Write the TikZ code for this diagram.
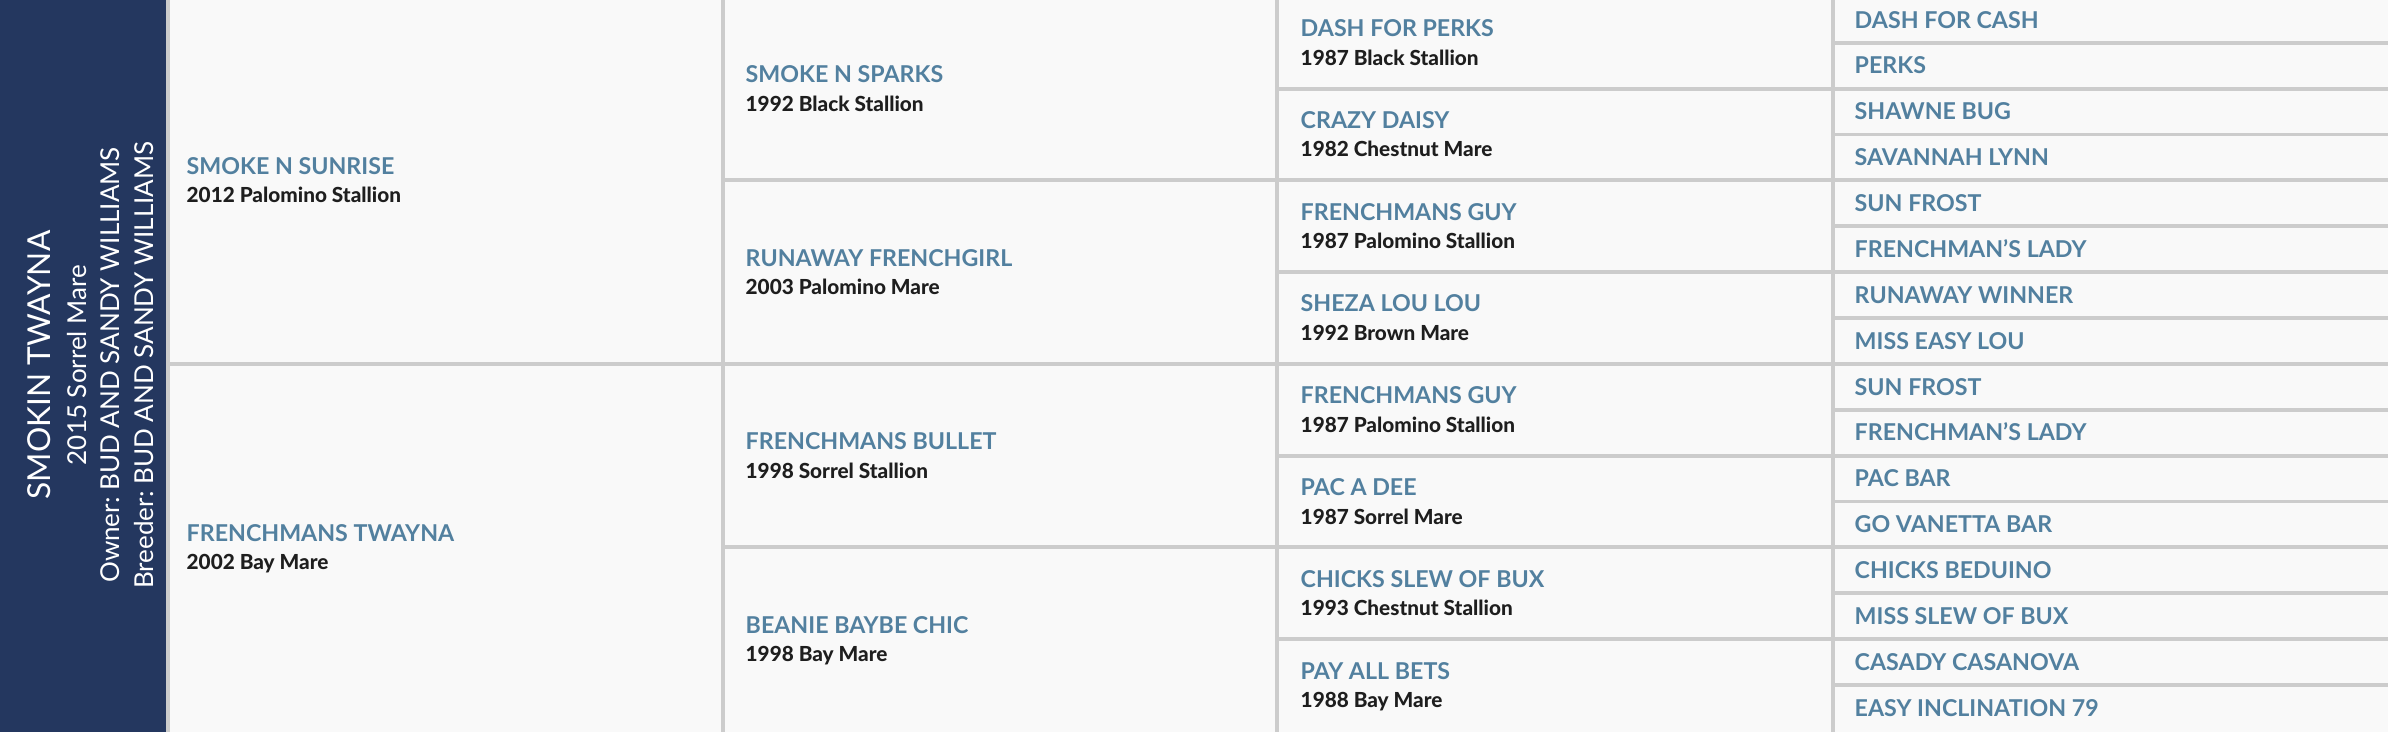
\documentclass[tikz,border=0pt]{standalone}
\usepackage{fontspec}
\setmainfont{Lato}
\newfontfamily\heavyfont{Lato Heavy}
\frenchspacing
\definecolor{navy}{HTML}{24375F}
\definecolor{nameblue}{HTML}{52809F}
\definecolor{subblack}{HTML}{1E1E1E}
\definecolor{lineg}{HTML}{CCCCCC}
\definecolor{cellbg}{HTML}{F9F9F9}
\tikzset{
  gridline/.style={draw=lineg, line width=1.1pt},
  nm/.style={anchor=base west, inner sep=0pt, text=nameblue, font=\bfseries\fontsize{6.6}{7}\selectfont},
  sb/.style={anchor=base west, inner sep=0pt, text=subblack, font=\heavyfont\fontsize{5.9}{6}\selectfont},
  side/.style={anchor=base, inner sep=0pt, rotate=90, text=white},
  sidebig/.style={side, font=\fontsize{9.0}{10}\selectfont},
  sidesmall/.style={side, font=\fontsize{7.4}{8}\selectfont}
}
\begin{document}
\begin{tikzpicture}[x=0.01cm, y=-0.01cm]
\useasboundingbox (0,0) rectangle (2388,732);
\fill[cellbg] (168,0) rectangle (2388,732);
\fill[navy] (0,0) rectangle (166,732);
% grid
\foreach \xx in {168,723,1277,1833} \draw[gridline] (\xx,0) -- (\xx,732);
\foreach \k in {1,3,5,7,9,11,13,15} \draw[gridline] (1833,{45.88*\k-3.2}) -- (2388,{45.88*\k-3.2});
\foreach \k in {2,6,10,14} \draw[gridline] (1277,{45.88*\k-3.2}) -- (2388,{45.88*\k-3.2});
\foreach \k in {4,12} \draw[gridline] (723,{45.88*\k-3.2}) -- (2388,{45.88*\k-3.2});
\draw[gridline] (168,{45.88*8-3.2}) -- (2388,{45.88*8-3.2});
% subject
\node[sidebig] (horse) at (50,365) {SMOKIN TWAYNA};
\node[sidesmall] (born) at (86,365) {2015 Sorrel Mare};
\node[sidesmall] (owner) at (119,365) {Owner: BUD AND SANDY WILLIAMS};
\node[sidesmall] (breeder) at (153,365) {Breeder: BUD AND SANDY WILLIAMS};
% generation 1
\foreach \n/\s/\k [count=\i] in {SMOKE N SUNRISE/2012 Palomino Stallion/4, FRENCHMANS TWAYNA/2002 Bay Mare/12}{
  \node[nm] (ga\i) at (186,{45.88*\k-3.2-6}) {\n};
  \node[sb] (gas\i) at (186,{45.88*\k-3.2+22.5}) {\s};
}
% generation 2
\foreach \n/\s/\k [count=\i] in {SMOKE N SPARKS/1992 Black Stallion/2, RUNAWAY FRENCHGIRL/2003 Palomino Mare/6, FRENCHMANS BULLET/1998 Sorrel Stallion/10, BEANIE BAYBE CHIC/1998 Bay Mare/14}{
  \node[nm] (gb\i) at (745,{45.88*\k-3.2-6}) {\n};
  \node[sb] (gbs\i) at (745,{45.88*\k-3.2+22.5}) {\s};
}
% generation 3
\foreach \n/\s/\k [count=\i] in {DASH FOR PERKS/1987 Black Stallion/1, CRAZY DAISY/1982 Chestnut Mare/3, FRENCHMANS GUY/1987 Palomino Stallion/5, SHEZA LOU LOU/1992 Brown Mare/7, FRENCHMANS GUY/1987 Palomino Stallion/9, PAC A DEE/1987 Sorrel Mare/11, CHICKS SLEW OF BUX/1993 Chestnut Stallion/13, PAY ALL BETS/1988 Bay Mare/15}{
  \node[nm] (gc\i) at (1300,{45.88*\k-3.2-6}) {\n};
  \node[sb] (gcs\i) at (1300,{45.88*\k-3.2+22.5}) {\s};
}
% generation 4
\foreach \n [count=\i] in {DASH FOR CASH, PERKS, SHAWNE BUG, SAVANNAH LYNN, SUN FROST, FRENCHMAN'S LADY, RUNAWAY WINNER, MISS EASY LOU, SUN FROST, FRENCHMAN'S LADY, PAC BAR, GO VANETTA BAR, CHICKS BEDUINO, MISS SLEW OF BUX, CASADY CASANOVA, EASY INCLINATION 79}{
  \node[nm] (gd\i) at (1854,{45.88*\i-26.14+8.3}) {\n};
}
\end{tikzpicture}
\end{document}
